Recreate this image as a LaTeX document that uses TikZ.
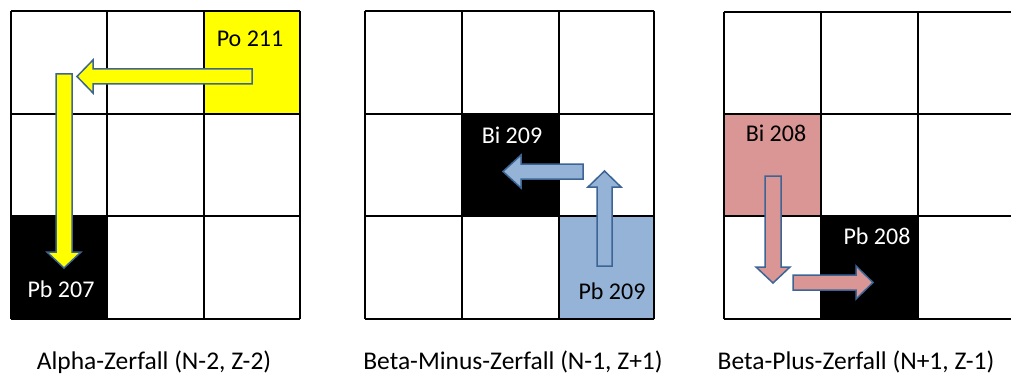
\documentclass[tikz,border=0pt]{standalone}
\usepackage{fontspec}
\setmainfont{Carlito}
\definecolor{outl}{RGB}{60,100,148}
\definecolor{cyel}{RGB}{255,255,0}
\definecolor{cblue}{RGB}{149,179,215}
\definecolor{cpink}{RGB}{217,150,148}
\begin{document}
\begin{tikzpicture}[x=1pt,y=-1pt,
  gridline/.style={black,line width=2.7pt},
  blockarrow/.style={draw=outl,line width=1.5pt,line join=miter},
  celltext/.style={anchor=base,inner sep=0pt,font=\fontsize{24}{28}\selectfont},
  captext/.style={anchor=base,inner sep=0pt,font=\fontsize{25.5}{30}\selectfont}]
\useasboundingbox (0,0) rectangle (1011,377);
\fill[white] (0,0) rectangle (1011,377);
% ---------- Grid 1: Alpha ----------
\fill[cyel] (204,11) rectangle (300,114);
\fill[black] (11,216) rectangle (107,319);
\foreach \x in {11,107,204,300} \draw[gridline] (\x,11) -- (\x,319);
\foreach \y in {11,114,216,319} \draw[gridline] (11,\y) -- (300,\y);
\node[celltext] (po211) at (250,47) {Po 211};
\node[celltext,text=white] (pb207) at (61,297) {Pb 207};
\draw[blockarrow,fill=cyel] (252,69) -- (93,69) -- (93,60) -- (77,76.5) -- (93,93) -- (93,84) -- (252,84) -- cycle;
\draw[blockarrow,fill=cyel] (56,74) -- (72,74) -- (72,252) -- (81,252) -- (64,268) -- (47,252) -- (56,252) -- cycle;
\node[captext] (cap1) at (154,369) {Alpha-Zerfall (N-2, Z-2)};
% ---------- Grid 2: Beta minus ----------
\fill[black] (462,114) rectangle (559,216);
\fill[cblue] (559,216) rectangle (654,319);
\foreach \x in {365,462,559,654} \draw[gridline] (\x,11) -- (\x,319);
\foreach \y in {11,114,216,319} \draw[gridline] (365,\y) -- (654,\y);
\node[celltext,text=white] (bi209) at (512,143) {Bi 209};
\node[celltext] (pb209) at (612,299) {Pb 209};
\draw[blockarrow,fill=cblue] (583,164) -- (521,164) -- (521,155) -- (503,171.5) -- (521,188) -- (521,179) -- (583,179) -- cycle;
\draw[blockarrow,fill=cblue] (597,266) -- (597,187) -- (588,187) -- (604.5,171) -- (621,187) -- (612,187) -- (612,266) -- cycle;
\node[captext] (cap2) at (513,369) {Beta-Minus-Zerfall (N-1, Z+1)};
% ---------- Grid 3: Beta plus ----------
\fill[cpink] (724,114) rectangle (821,216);
\fill[black] (821,216) rectangle (918,319);
\foreach \x in {724,821,918,1015} \draw[gridline] (\x,12) -- (\x,319);
\foreach \y in {12,114,216,319} \draw[gridline] (724,\y) -- (1015,\y);
\node[celltext] (bi208) at (776,142) {Bi 208};
\node[celltext,text=white] (pb208) at (877,244) {Pb 208};
\draw[blockarrow,fill=cpink] (765,176) -- (781,176) -- (781,267) -- (790,267) -- (773,283) -- (756,267) -- (765,267) -- cycle;
\draw[blockarrow,fill=cpink] (793,275) -- (856,275) -- (856,266) -- (873,282.5) -- (856,299) -- (856,290) -- (793,290) -- cycle;
\node[captext] (cap3) at (856,369) {Beta-Plus-Zerfall (N+1, Z-1)};
\end{tikzpicture}
\end{document}
